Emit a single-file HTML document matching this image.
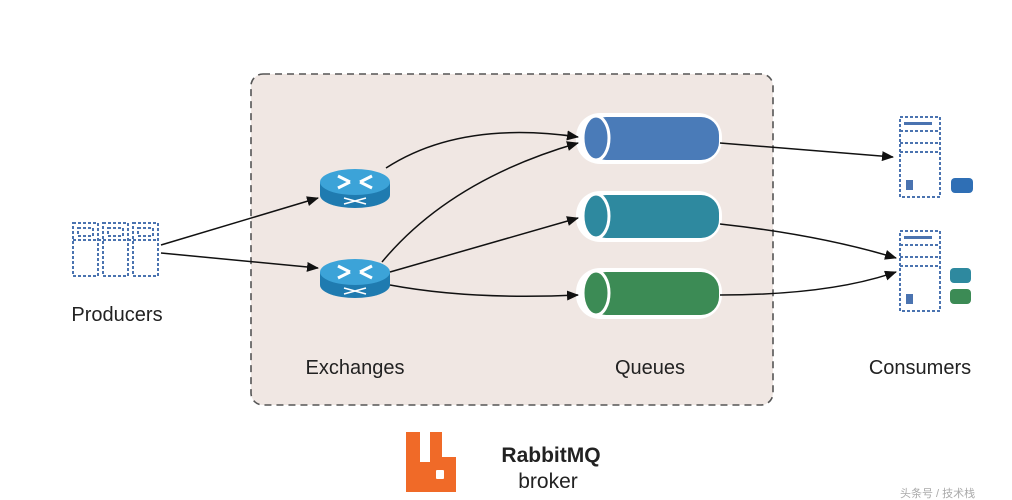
<!DOCTYPE html>
<html><head><meta charset="utf-8"><style>
html,body{margin:0;padding:0;background:#fff;width:1012px;height:500px;overflow:hidden}
svg text{font-family:"Liberation Sans",Arial,sans-serif;fill:#222}
</style></head><body>
<svg width="1012" height="500" viewBox="0 0 1012 500" xmlns="http://www.w3.org/2000/svg">
<defs>
<marker id="ah" markerWidth="12" markerHeight="10" refX="11" refY="5" orient="auto" markerUnits="userSpaceOnUse">
<path d="M0,0 L12,5 L0,10 z" fill="#111"/></marker>
<g id="router">
<path d="M0,14 L0,27 A35,13 0 0 0 70,27 L70,14 Z" fill="#1f7bb0"/>
<ellipse cx="35" cy="14" rx="35" ry="13" fill="#3ca3d8"/>
<path d="M18,8 L30,14 M18,20 L30,14 M52,8 L40,14 M52,20 L40,14" stroke="#fff" stroke-width="3"/>
<path d="M24,30 L46,36 M24,36 L46,30" stroke="#fff" stroke-width="1.6"/>
</g>
<g id="server" fill="none" stroke="#4a73b0" stroke-width="2" stroke-dasharray="3,2">
<rect x="0" y="0" width="40" height="80"/>
<line x1="0" y1="14" x2="40" y2="14"/>
<line x1="0" y1="26" x2="40" y2="26"/>
<line x1="0" y1="35" x2="40" y2="35"/>
</g>
</defs>
<rect x="251" y="74" width="522" height="331" rx="12" fill="#f0e7e3" stroke="#555" stroke-width="1.6" stroke-dasharray="7,5"/>

<!-- producers -->
<g fill="none" stroke="#4a73b0" stroke-width="2" stroke-dasharray="3,2">
<rect x="73" y="223" width="25" height="53"/><rect x="103" y="223" width="25" height="53"/><rect x="133" y="223" width="25" height="53"/>
<line x1="73" y1="240" x2="158" y2="240"/>
<rect x="78" y="228" width="15" height="8"/><rect x="108" y="228" width="15" height="8"/><rect x="138" y="228" width="15" height="8"/>
</g>

<use href="#router" x="320" y="168"/>
<use href="#router" x="320" y="258"/>

<!-- queues -->
<g>
<rect x="576" y="113" width="146" height="51" rx="24" fill="#fff"/>
<rect x="588" y="117" width="131" height="43" rx="18" fill="#4a7bb8"/>
<ellipse cx="596" cy="138" rx="13" ry="22" fill="#4a7bb8" stroke="#fff" stroke-width="3"/>
<rect x="576" y="191" width="146" height="51" rx="24" fill="#fff"/>
<rect x="588" y="195" width="131" height="43" rx="18" fill="#2e899f"/>
<ellipse cx="596" cy="216" rx="13" ry="22" fill="#2e899f" stroke="#fff" stroke-width="3"/>
<rect x="576" y="268" width="146" height="51" rx="24" fill="#fff"/>
<rect x="588" y="272" width="131" height="43" rx="18" fill="#3c8b55"/>
<ellipse cx="596" cy="293" rx="13" ry="22" fill="#3c8b55" stroke="#fff" stroke-width="3"/>
</g>

<!-- consumers -->
<use href="#server" x="900" y="117"/>
<use href="#server" x="900" y="231"/>
<rect x="904" y="122" width="28" height="3" fill="#4a73b0"/>
<rect x="904" y="236" width="28" height="3" fill="#4a73b0"/>
<rect x="906" y="180" width="7" height="10" fill="#4a73b0"/>
<rect x="906" y="294" width="7" height="10" fill="#4a73b0"/>
<rect x="951" y="178" width="22" height="15" rx="4" fill="#2f6fb5"/>
<rect x="950" y="268" width="21" height="15" rx="4" fill="#2e899f"/>
<rect x="950" y="289" width="21" height="15" rx="4" fill="#3c8b55"/>

<!-- arrows -->
<g fill="none" stroke="#111" stroke-width="1.5" marker-end="url(#ah)">
<path d="M161,245 L318,198"/>
<path d="M161,253 L318,268"/>
<path d="M386,168 Q460,120 578,137"/>
<path d="M382,262 Q450,180 578,143"/>
<path d="M390,272 L578,218"/>
<path d="M390,285 Q470,300 578,295"/>
<path d="M720,143 L893,157"/>
<path d="M720,224 Q820,235 896,258"/>
<path d="M720,295 Q830,295 896,272"/>
</g>

<g font-size="20" text-anchor="middle">
<text x="117" y="321">Producers</text>
<text x="355" y="374">Exchanges</text>
<text x="650" y="374">Queues</text>
<text x="920" y="374">Consumers</text>
</g>

<!-- rabbit logo -->
<path d="M406,432 h14 v30 h10 v-30 h12 v25 h14 v35 h-50 z" fill="#f06a28"/>
<rect x="436" y="470" width="8" height="9" rx="1" fill="#fff"/>
<text x="551" y="462" font-size="21" font-weight="bold" text-anchor="middle">RabbitMQ</text>
<text x="548" y="488" font-size="21" text-anchor="middle">broker</text>
<text x="900" y="497" font-size="11" fill="#aaa" style="fill:#aaa">头条号 / 技术栈</text>
</svg>
</body></html>
